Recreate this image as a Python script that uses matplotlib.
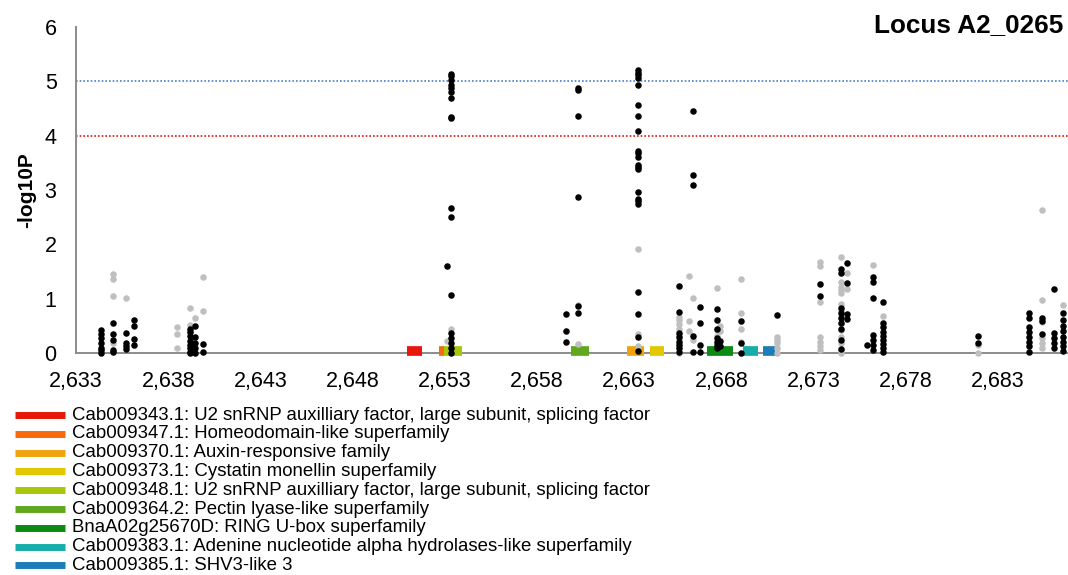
import numpy as np
import matplotlib
matplotlib.use("Agg")
import matplotlib.pyplot as plt
from matplotlib.lines import Line2D

plt.rcParams['font.family'] = ['Liberation Sans', 'DejaVu Sans']

# SNP positions (kb) and -log10P values, grouped by position
black_pos = [2634.34, 2635.02, 2635.71, 2636.15, 2639.18, 2639.45, 2639.90, 2653.14, 2653.34,
             2659.57, 2660.24, 2663.46, 2665.68, 2666.44, 2666.84, 2667.74, 2667.92, 2669.05,
             2671.00, 2673.35, 2674.49, 2674.83, 2675.91, 2676.20, 2676.78, 2681.93, 2684.70,
             2685.37, 2686.04, 2686.54]
black_vals = [
    [0.42, 0.35, 0.27, 0.18, 0.10, 0.06, 0.0],
    [0.56, 0.35, 0.24, 0.06, 0.02],
    [0.37, 0.19, 0.13, 0.07],
    [0.61, 0.50, 0.25, 0.14],
    [0.45, 0.39, 0.31, 0.23, 0.15, 0.09, 0.02, 0.0],
    [0.50, 0.29, 0.18, 0.09, 0.0],
    [0.16, 0.01],
    [1.60],
    [5.14, 5.09, 5.02, 4.93, 4.87, 4.81, 4.69, 4.35, 4.32, 2.66, 2.50, 1.07, 0.36, 0.27, 0.18, 0.09, 0.0],
    [0.72, 0.41, 0.21],
    [4.87, 4.84, 4.37, 2.88, 0.87, 0.74],
    [5.20, 5.16, 5.12, 5.07, 4.93, 4.56, 4.36, 4.08, 3.72, 3.68, 3.60, 3.46, 3.43, 3.39, 2.97,
     2.83, 2.79, 2.74, 1.13, 0.72, 0.30, 0.04],
    [1.23, 0.76, 0.36, 0.29, 0.21, 0.15, 0.09, 0.02],
    [4.45, 3.28, 3.09, 0.31, 0.02],
    [0.85, 0.56, 0.14, 0.01],
    [0.81, 0.61, 0.44, 0.28, 0.21, 0.15, 0.09],
    [0.23, 0.12],
    [0.58, 0.18, 0.0],
    [0.70],
    [1.27, 1.05],
    [1.54, 1.47, 0.82, 0.73, 0.64, 0.55, 0.45, 0.24, 0.07],
    [1.66, 1.28, 0.71, 0.62],
    [0.15],
    [1.39, 1.31, 1.01, 0.33, 0.24, 0.15, 0.06],
    [0.93, 0.55, 0.47, 0.39, 0.31, 0.24, 0.17, 0.09, 0.01],
    [0.32, 0.19],
    [0.73, 0.64, 0.47, 0.39, 0.30, 0.21, 0.12, 0.02],
    [0.65, 0.58, 0.35],
    [1.18, 0.37, 0.27, 0.18, 0.09],
    [0.73, 0.61, 0.50, 0.40, 0.30, 0.21, 0.12, 0.03],
]

gray_pos = [2635.02, 2635.71, 2638.46, 2639.18, 2639.45, 2639.90, 2653.34, 2653.14, 2660.24,
            2663.46, 2665.68, 2666.24, 2666.44, 2667.74, 2667.92, 2669.05, 2671.00, 2673.35,
            2674.49, 2674.83, 2676.20, 2676.78, 2681.93, 2685.37, 2686.54]
gray_vals = [
    [1.45, 1.37, 1.04, 0.18],
    [1.02],
    [0.47, 0.35, 0.10],
    [0.82, 0.52, 0.41],
    [0.64],
    [1.40, 0.77],
    [0.45],
    [0.22],
    [0.88, 0.17],
    [1.92, 0.35, 0.12],
    [0.67, 0.61, 0.53, 0.44, 0.33, 0.24, 0.0],
    [1.42, 0.58, 0.40],
    [1.02, 0.24],
    [1.19, 0.42, 0.31],
    [0.49, 0.40],
    [1.36, 0.74, 0.44, 0.21],
    [0.30, 0.24, 0.18, 0.09, 0.0],
    [1.68, 1.60, 0.94, 0.30, 0.21, 0.13, 0.06],
    [1.76, 1.31, 1.22, 1.16, 1.10, 0.91, 0.79, 0.67, 0.55, 0.42, 0.30, 0.18, 0.06, 0.0],
    [1.47, 1.18],
    [1.62],
    [0.68],
    [0.15, 0.0],
    [2.63, 0.98, 0.57, 0.27, 0.18, 0.09],
    [0.88],
]

# genes in the locus
gene_labels = [
    "Cab009343.1: U2 snRNP auxilliary factor, large subunit, splicing factor",
    "Cab009347.1: Homeodomain-like superfamily",
    "Cab009370.1: Auxin-responsive family",
    "Cab009373.1: Cystatin monellin superfamily",
    "Cab009348.1: U2 snRNP auxilliary factor, large subunit, splicing factor",
    "Cab009364.2: Pectin lyase-like superfamily",
    "BnaA02g25670D: RING U-box superfamily",
    "Cab009383.1: Adenine nucleotide alpha hydrolases-like superfamily",
    "Cab009385.1: SHV3-like 3",
]
gene_start = [2650.95, 2652.69, 2662.88, 2664.13, 2652.96, 2659.84, 2667.22, 2669.17, 2670.26]
gene_end = [2651.76, 2652.96, 2663.80, 2664.89, 2653.93, 2660.82, 2668.63, 2669.98, 2670.91]
gene_colors = ['#E8170C', '#F96A0C', '#F0A30F', '#E3C700', '#A6C70A', '#62A81F', '#0C8A12',
               '#16ADAA', '#1C7DB8']

x_ticks = np.arange(2633, 2686, 5)

fig = plt.figure(figsize=(10.68, 5.75), dpi=100)
ax = fig.add_axes([76 / 1068, 1 - 353 / 575, 992 / 1068, 326 / 575])

gx = np.concatenate([[p] * len(v) for p, v in zip(gray_pos, gray_vals)])
gy = np.concatenate(gray_vals)
bx = np.concatenate([[p] * len(v) for p, v in zip(black_pos, black_vals)])
by = np.concatenate(black_vals)

for s, e, c in zip(gene_start, gene_end, gene_colors):
    ax.plot([s, e], [0.04, 0.04], color=c, lw=7, solid_capstyle='butt', clip_on=False, zorder=2)

ax.scatter(gx, gy, s=22, color='#BFBFBF', linewidths=0, zorder=3, clip_on=False)
ax.scatter(bx, by, s=22, color='black', linewidths=0, zorder=4, clip_on=False)

ax.axhline(5, color='#4A7FD0', lw=1.2, ls=(0, (1, 1.2)), zorder=1)
ax.axhline(4, color='#E8140A', lw=1.2, ls=(0, (1, 1.2)), zorder=1)

ax.set_xlim(2633, 2686.8)
ax.set_ylim(0, 6)
ax.set_xticks(x_ticks)
ax.set_xticklabels([f"{t:,}" for t in x_ticks])
ax.set_yticks(range(7))
ax.tick_params(length=0, labelsize=15.5)
ax.tick_params(axis='x', pad=13)
ax.tick_params(axis='y', pad=14)
for side in ['top', 'right']:
    ax.spines[side].set_visible(False)
for side in ['left', 'bottom']:
    ax.spines[side].set_color('#8C8C8C')
    ax.spines[side].set_linewidth(1.4)
    ax.spines[side].set_zorder(1)
ax.set_ylabel("-log10P", fontsize=15, fontweight='bold', labelpad=6)

fig.text(1063 / 1068, 1 - 25 / 575, "Locus A2_0265", fontsize=18.8, fontweight='bold',
         ha='right', va='center')

# legend below the chart
for i, (lab, c) in enumerate(zip(gene_labels, gene_colors)):
    y = 1 - (415 + i * 18.8) / 575
    fig.add_artist(Line2D([15 / 1068, 65 / 1068], [y, y], color=c, lw=5, solid_capstyle='butt'))
    fig.text(72 / 1068, y, lab, fontsize=13.4, va='center', ha='left')

fig.savefig("out.png", dpi=100)
